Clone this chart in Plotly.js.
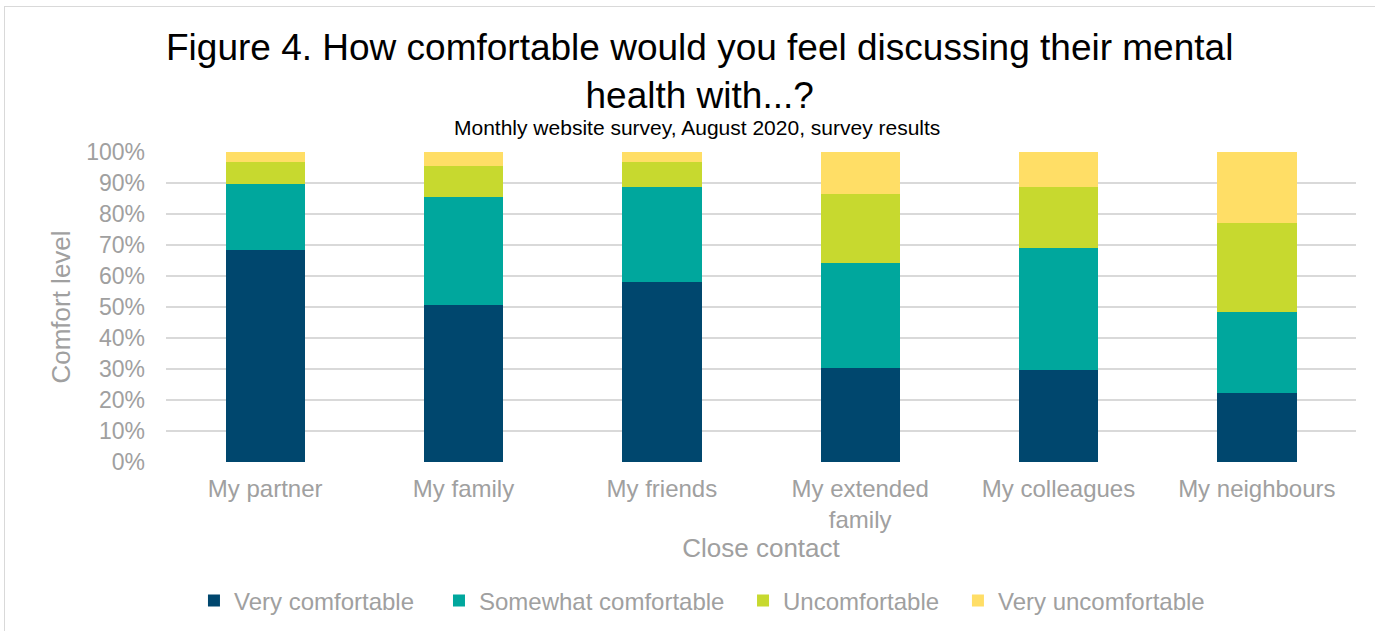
<!DOCTYPE html>
<html>
<head>
<meta charset="utf-8">
<script src="https://cdn.plot.ly/plotly-3.0.1.min.js"></script>
<style>
html,body{margin:0;padding:0;background:#fff;}
#frame{position:absolute;left:4px;top:6px;width:1380px;height:640px;border:1px solid #d9d9d9;box-sizing:border-box;}
#chart{position:absolute;left:0;top:0;width:1375px;height:631px;}
</style>
</head>
<body>
<div id="frame"></div>
<div id="chart"></div>
<script>
const categories = ["My partner", "My family", "My friends", "My extended<br>family", "My colleagues", "My neighbours"];
const seriesNames = ["Very comfortable", "Somewhat comfortable", "Uncomfortable", "Very uncomfortable"];
const veryComfortable     = [68.5, 50.8, 58.1, 30.4, 29.8, 22.4];
const somewhatComfortable = [21.3, 34.7, 30.5, 33.8, 39.3, 26.0];
const uncomfortable       = [7.0, 10.0, 8.2, 22.3, 19.6, 28.7];
const veryUncomfortable   = [3.2, 4.5, 3.2, 13.5, 11.3, 22.9];
const colors = ["#00476E", "#00A79D", "#C7D92F", "#FFDE66"];
const values = [veryComfortable, somewhatComfortable, uncomfortable, veryUncomfortable];
const legendIds = ["legend", "legend2", "legend3", "legend4"];
const legendX = [0.0235, 0.2294, 0.4849, 0.6655];

const traces = values.map((v, i) => ({
  type: "bar",
  name: seriesNames[i],
  x: categories,
  y: v,
  legend: legendIds[i],
  marker: {color: colors[i], line: {width: 0}},
  width: 0.4
}));

const gray = "#A0A0A0";
const layout = {
  width: 1375, height: 631,
  barmode: "stack",
  paper_bgcolor: "rgba(0,0,0,0)",
  plot_bgcolor: "rgba(0,0,0,0)",
  margin: {l: 166, r: 19, t: 152, b: 169},
  font: {family: "Liberation Sans, Arial, sans-serif", color: gray},
  annotations: [{
    text: "Figure 4. How comfortable would you feel discussing their mental<br>health with...?",
    xref: "paper", yref: "paper", x: 0.448, y: (462 - 71) / 310, xanchor: "center", yanchor: "middle",
    showarrow: false, font: {size: 37, color: "#000"}
  }, {
    text: "Monthly website survey, August 2020, survey results",
    xref: "paper", yref: "paper", x: 0.446, y: (462 - 127) / 310, xanchor: "center", yanchor: "middle",
    showarrow: false, font: {size: 21, color: "#000"}
  }],
  xaxis: {
    type: "category",
    tickfont: {size: 24, color: gray},
    ticks: "", showline: false, showgrid: false,
    ticklabelstandoff: 10,
    title: {text: "Close contact", font: {size: 26, color: gray}, standoff: 4},
    automargin: false
  },
  yaxis: {
    range: [0, 100],
    tickvals: [0,10,20,30,40,50,60,70,80,90,100],
    ticktext: ["0%","10%","20%","30%","40%","50%","60%","70%","80%","90%","100%"],
    tickfont: {size: 23, color: gray},
    gridcolor: "#D9D9D9", gridwidth: 1.5,
    zeroline: false, showline: false,
    ticklabelstandoff: 20,
    title: {text: "Comfort level", font: {size: 26, color: gray}, standoff: 8},
    automargin: false
  },
  showlegend: true
};
legendIds.forEach((id, i) => {
  layout[id] = {
    orientation: "h", x: legendX[i], xanchor: "left",
    yref: "container", y: 1 - 601 / 631, yanchor: "middle",
    font: {size: 24, color: gray}, itemwidth: 30, bgcolor: "rgba(0,0,0,0)"
  };
});
Plotly.newPlot("chart", traces, layout, {displayModeBar: false, staticPlot: true});
</script>
</body>
</html>
